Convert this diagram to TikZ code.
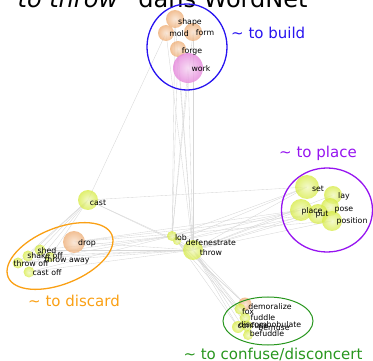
\documentclass[tikz,border=0pt]{standalone}
\usepackage{fontspec}
\setmainfont{DejaVu Sans}
\begin{document}
\begin{tikzpicture}[x=1pt,y=-1pt,
  edge/.style={draw=black!16,line width=0.35pt},
  lbl/.style={font=\fontsize{7.8}{8}\selectfont,inner sep=0pt,text=black},
  grp/.style={font=\fontsize{15}{16}\selectfont,inner sep=0pt},
  ballY/.style={circle,inner sep=0pt,minimum size=#1,inner color=yg!35!white,outer color=yg,opacity=0.78},
  ballO/.style={circle,inner sep=0pt,minimum size=#1,inner color=orb!35!white,outer color=orb,opacity=0.8},
  ballP/.style={circle,inner sep=0pt,minimum size=#1,inner color=pkb!35!white,outer color=pkb,opacity=0.85},
  hull/.style={line width=1.3pt}]
\definecolor{yg}{RGB}{215,235,70}
\definecolor{orb}{RGB}{238,175,120}
\definecolor{pkb}{RGB}{230,140,220}
\definecolor{cblue}{RGB}{40,20,240}
\definecolor{cpurp}{RGB}{150,20,240}
\definecolor{corng}{RGB}{250,160,20}
\definecolor{cgrn}{RGB}{40,150,30}
\useasboundingbox (0,0) rectangle (373,361);
% title
\node[anchor=base west,inner sep=0pt,font=\fontsize{24}{26}\selectfont] (title) at (5,8) {\textit{“to throw”} dans WordNet};
% centres
\coordinate (cShape) at (175,19);
\coordinate (cForm) at (193,32);
\coordinate (cMold) at (166,33);
\coordinate (cForge) at (178,49);
\coordinate (cWork) at (188,68);
\coordinate (cSet) at (307,187);
\coordinate (cLay) at (333,195);
\coordinate (cPlace) at (301,210);
\coordinate (cPut) at (318,214);
\coordinate (cPose) at (330,207);
\coordinate (cPos) at (332,221);
\coordinate (cCast) at (88,200);
\coordinate (cDrop) at (74,242);
\coordinate (cShed) at (40,250);
\coordinate (cShake) at (28,256);
\coordinate (cThrowOff) at (18,263);
\coordinate (cCastOff) at (29,272);
\coordinate (cThrowAway) at (50,257);
\coordinate (cLob) at (172,236);
\coordinate (cDef) at (177,241);
\coordinate (cThrow) at (193,250);
\coordinate (cDem) at (245,304);
\coordinate (cFox) at (240,309);
\coordinate (cFud) at (245,318);
\coordinate (cConf) at (238,327);
\coordinate (cDisc) at (247,326);
\coordinate (cBef) at (248,335);
% edges
\foreach \t in {cShape,cForm,cMold,cForge,cWork,cSet,cLay,cPlace,cPut,cPose,cPos,cCast,cDrop,cShed,cShake,cThrowOff,cCastOff,cThrowAway,cLob,cDem,cFox,cFud,cConf,cDisc,cBef}
  \draw[edge] (cThrow) -- (\t);
\foreach \t in {cShape,cForm,cForge,cWork,cSet,cPlace,cShed,cShake,cThrowOff,cCastOff,cDem,cFud}
  \draw[edge] (cLob) -- (\t);
\foreach \t in {cMold,cSet,cShed,cShake,cThrowOff,cCastOff,cThrowAway,cDef}
  \draw[edge] (cCast) -- (\t);
\foreach \t in {cSet,cPlace,cPut,cDem,cConf}
  \draw[edge] (cDef) -- (\t);
\foreach \t in {cPlace,cPut,cPos}
  \draw[edge] (cDrop) -- (\t);
% spheres
\node[ballO=18] (bShape) at (cShape) {};
\node[ballO=18] (bForm) at (cForm) {};
\node[ballO=16] (bMold) at (cMold) {};
\node[ballO=16] (bForge) at (cForge) {};
\node[ballP=30] (bWork) at (cWork) {};
\node[ballY=24] (bSet) at (cSet) {};
\node[ballY=18] (bLay) at (cLay) {};
\node[ballY=22] (bPlace) at (cPlace) {};
\node[ballY=18] (bPose) at (cPose) {};
\node[ballY=20] (bPut) at (cPut) {};
\node[ballY=20] (bPos) at (cPos) {};
\node[ballY=20] (bCast) at (cCast) {};
\node[ballO=22] (bDrop) at (cDrop) {};
\node[ballY=11] (bShed) at (cShed) {};
\node[ballY=11] (bShake) at (cShake) {};
\node[ballY=11] (bThrowOff) at (cThrowOff) {};
\node[ballY=11] (bCastOff) at (cCastOff) {};
\node[ballY=10] (bThrowAway) at (cThrowAway) {};
\node[ballY=10] (bLob) at (cLob) {};
\node[ballY=8] (bDef) at (cDef) {};
\node[ballY=20] (bThrow) at (cThrow) {};
\node[ballO=13] (bDem) at (cDem) {};
\node[ballY=11] (bFox) at (cFox) {};
\node[ballY=11] (bFud) at (cFud) {};
\node[ballY=12] (bConf) at (cConf) {};
\node[ballY=11] (bDisc) at (cDisc) {};
\node[ballY=10] (bBef) at (cBef) {};
% labels
\node[lbl] (lShape) at (190,22) {shape};
\node[lbl] (lMold) at (179,34) {mold};
\node[lbl] (lForm) at (205,33) {form};
\node[lbl] (lForge) at (192,51) {forge};
\node[lbl] (lWork) at (201,69) {work};
\node[lbl] (lSet) at (318,189) {set};
\node[lbl] (lLay) at (344,196) {lay};
\node[lbl] (lPlace) at (312,211) {place};
\node[lbl] (lPut) at (322,215) {put};
\node[lbl] (lPose) at (344,210) {pose};
\node[lbl] (lPos) at (352,221) {position};
\node[lbl] (lCast) at (98,203) {cast};
\node[lbl] (lDrop) at (87,243) {drop};
\node[lbl] (lShed) at (47,251) {shed};
\node[lbl] (lShake) at (45,256) {shake off};
\node[lbl] (lThrowAway) at (67,260) {throw away};
\node[lbl] (lThrowOff) at (31,264) {throw off};
\node[lbl] (lCastOff) at (47,273) {cast off};
\node[lbl] (lLob) at (181,238) {lob};
\node[lbl] (lDef) at (211,243) {defenestrate};
\node[lbl] (lThrow) at (211,253) {throw};
\node[lbl] (lDem) at (270,307) {demoralize};
\node[lbl] (lFox) at (248,312) {fox};
\node[lbl] (lFud) at (263,318) {fuddle};
\node[lbl] (lConf) at (253,326) {confuse};
\node[lbl] (lDisc) at (270,325) {discombobulate};
\node[lbl] (lBem) at (274,328) {bemuse};
\node[lbl] (lBef) at (267,334) {befuddle};
% hulls and group labels
\draw[hull,cblue] (187,47) ellipse [x radius=40,y radius=43];
\node[grp,text=cblue,anchor=west] (gBuild) at (231,33) {\textasciitilde{} to build};
\draw[hull,cpurp] (327,210) ellipse [x radius=45.5,y radius=42];
\node[grp,text=cpurp] (gPlace) at (318,153) {\textasciitilde{} to place};
\draw[hull,corng,rotate around={22:(60,256)}] (60,256) ellipse [x radius=56,y radius=28];
\node[grp,text=corng] (gDiscard) at (74,301) {\textasciitilde{} to discard};
\draw[hull,cgrn,line width=1pt] (268,321) ellipse [x radius=45,y radius=24];
\node[grp,text=cgrn] (gConf) at (273,354) {\textasciitilde{} to confuse/disconcert};
\end{tikzpicture}
\end{document}
